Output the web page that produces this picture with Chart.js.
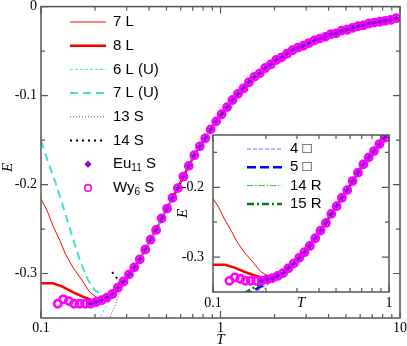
<!DOCTYPE html>
<html>
<head>
<meta charset="utf-8">
<script src="https://cdn.jsdelivr.net/npm/chart.js@4"></script>
<style>
  html, body { margin: 0; padding: 0; background: #fff; }
  #wrap { position: relative; width: 407px; height: 346px; }
  #main { position: absolute; left: 0; top: 0; }
  #inset { position: absolute; left: 170px; top: 125px; }
</style>
</head>
<body>
<div id="wrap">
  <canvas id="main" width="407" height="346"></canvas>
  <canvas id="inset" width="230" height="195"></canvas>
</div>
<script>
// Energy E(T) -- main panel (0.1..10) and inset (0.1..1)

// markers, shared by both panels
const tWy = [0.124, 0.133, 0.143, 0.153, 0.164, 0.176, 0.189, 0.203, 0.218, 0.233, 0.250, 0.268, 0.288, 0.309, 0.331, 0.355, 0.381, 0.408, 0.438, 0.470, 0.504, 0.540, 0.579, 0.621, 0.666, 0.715, 0.767, 0.822, 0.882, 0.946, 1.014, 1.088, 1.166, 1.251, 1.342, 1.439, 1.543, 1.655, 1.775, 1.904, 2.042, 2.190, 2.349, 2.519, 2.702, 2.897, 3.107, 3.333, 3.574, 3.833, 4.111, 4.409, 4.729, 5.072, 5.439, 5.833, 6.256, 6.709, 7.195, 7.717, 8.276, 8.876, 9.519];
const eWy = [-0.334, -0.329, -0.331, -0.334, -0.334, -0.334, -0.334, -0.332, -0.330, -0.327, -0.323, -0.316, -0.309, -0.301, -0.293, -0.284, -0.273, -0.262, -0.251, -0.238, -0.227, -0.215, -0.204, -0.191, -0.179, -0.167, -0.157, -0.148, -0.138, -0.129, -0.121, -0.113, -0.105, -0.098, -0.092, -0.085, -0.079, -0.075, -0.069, -0.065, -0.060, -0.057, -0.053, -0.049, -0.046, -0.044, -0.041, -0.038, -0.036, -0.034, -0.031, -0.030, -0.027, -0.026, -0.024, -0.022, -0.021, -0.019, -0.018, -0.017, -0.016, -0.015, -0.013];
const tEu = [0.189, 0.203, 0.218, 0.233, 0.250, 0.268, 0.288, 0.309, 0.331, 0.355, 0.381, 0.408, 0.438, 0.470, 0.504, 0.540, 0.579, 0.621, 0.666, 0.715, 0.767, 0.822, 0.882, 0.946, 1.014, 1.088, 1.166, 1.251, 1.342, 1.439, 1.543, 1.655, 1.775, 1.904, 2.042, 2.190, 2.349, 2.519, 2.702, 2.897, 3.107, 3.333, 3.574, 3.833, 4.111, 4.409, 4.729, 5.072, 5.439, 5.833, 6.256, 6.709, 7.195, 7.717, 8.276, 8.876, 9.519];
const eEu = [-0.334, -0.332, -0.330, -0.327, -0.323, -0.316, -0.309, -0.301, -0.293, -0.284, -0.273, -0.262, -0.251, -0.238, -0.227, -0.215, -0.204, -0.191, -0.179, -0.167, -0.157, -0.148, -0.138, -0.129, -0.121, -0.113, -0.105, -0.098, -0.092, -0.085, -0.079, -0.075, -0.069, -0.065, -0.060, -0.057, -0.053, -0.049, -0.046, -0.044, -0.041, -0.038, -0.036, -0.034, -0.031, -0.030, -0.027, -0.026, -0.024, -0.022, -0.021, -0.019, -0.018, -0.017, -0.016, -0.015, -0.013];

// low-T branches of the lines (above T~0.28 they run along the markers)
const t7L = [0.1, 0.108, 0.117, 0.1275, 0.136, 0.1505, 0.169, 0.187, 0.205, 0.218, 0.233, 0.25, 0.268];
const e7L = [-0.216, -0.229, -0.247, -0.263, -0.277, -0.293, -0.3075, -0.321, -0.327, -0.330, -0.327, -0.323, -0.316];
const t8L = [0.1, 0.117, 0.1325, 0.1505, 0.171, 0.193, 0.205, 0.218, 0.233, 0.25, 0.268];
const e8L = [-0.311, -0.311, -0.315, -0.321, -0.326, -0.330, -0.331, -0.330, -0.327, -0.323, -0.316];
const t6LU = [0.205, 0.2127, 0.226, 0.2386, 0.251, 0.268];
const e6LU = [-0.365, -0.35, -0.34, -0.332, -0.324, -0.316];
const t7LU = [0.1, 0.108, 0.1196, 0.1325, 0.1487, 0.1646, 0.1825, 0.1995, 0.2185, 0.2357, 0.2512, 0.268];
const e7LU = [-0.151, -0.171, -0.196, -0.224, -0.257, -0.285, -0.307, -0.319, -0.324, -0.325, -0.323, -0.316];
const t13S = [0.235, 0.242, 0.261, 0.275];
const e13S = [-0.362, -0.35, -0.334, -0.320];
const t14S = [0.249, 0.2645, 0.278];
const e14S = [-0.2985, -0.305, -0.313];
const t4Q = [0.165, 0.185, 0.205, 0.222, 0.25];
const e4Q = [-0.353, -0.346, -0.338, -0.332, -0.323];
const t5Q = [0.150, 0.170, 0.190, 0.210, 0.233];
const e5Q = [-0.356, -0.348, -0.341, -0.334, -0.327];
const t14R = [0.185, 0.200, 0.218, 0.233];
const e14R = [-0.355, -0.342, -0.333, -0.327];
const t15R = [0.150, 0.170, 0.190, 0.210, 0.233];
const e15R = [-0.352, -0.344, -0.338, -0.333, -0.327];

// ticks
const mainXTicks = [0.1, 1, 10];
const mainXTickLabels = ["0.1", "1", "10"];
const mainXMinor = [0.2, 0.3, 0.4, 0.5, 0.6, 0.7, 0.8, 0.9, 2, 3, 4, 5, 6, 7, 8, 9];
const mainYTicks = [0, -0.1, -0.2, -0.3];
const mainYTickLabels = ["0", "-0.1", "-0.2", "-0.3"];
const mainYMinor = [-0.05, -0.15, -0.25];
const insetXTicks = [0.1, 1];
const insetXTickLabels = ["0.1", "1"];
const insetXMinor = [0.2, 0.3, 0.4, 0.5, 0.6, 0.7, 0.8, 0.9];
const insetYTicks = [-0.2, -0.3];
const insetYTickLabels = ["-0.2", "-0.3"];
const insetYMinor = [-0.15, -0.25];

const RED = "#ff0000";
const TURQ = "#40e0d0";
const PURPLE = "#9400d3";
const MAGENTA = "#ff00ff";

function pts(t, e) {
  return t.map((v, i) => ({ x: v, y: e[i] }));
}

// low branch followed by the common curve
function withTail(t, e) {
  const out = pts(t, e);
  const last = t[t.length - 1];
  tWy.forEach((v, i) => {
    if (v > last + 1e-6) out.push({ x: v, y: eWy[i] });
  });
  return out;
}

function lineSet(label, data, color, width, dash, order) {
  return {
    label, data,
    borderColor: color, backgroundColor: color,
    borderWidth: width, borderDash: dash,
    pointRadius: 0, tension: 0, fill: false, order
  };
}

function wySet() {
  return {
    label: "Wy|6| S", data: pts(tWy, eWy), showLine: false,
    pointStyle: "circle", pointRadius: 3.6, borderWidth: 2.6,
    borderColor: MAGENTA, backgroundColor: "rgba(255,255,255,0)", order: 1
  };
}

function euSet() {
  return {
    label: "Eu|11| S", data: pts(tEu, eEu), showLine: false,
    pointStyle: "rectRot", pointRadius: 2.6, borderWidth: 0.5,
    borderColor: PURPLE, backgroundColor: PURPLE, order: 0
  };
}

// box, inward ticks on all sides, tick labels, axis titles
function makeFrame(cfg) {
  return {
    id: "frame",
    afterDatasetsDraw(chart) {
      const { ctx, chartArea: a, scales: { x, y } } = chart;
      ctx.save();
      ctx.strokeStyle = "#555";
      ctx.lineWidth = 1.5;
      ctx.setLineDash([]);
      ctx.strokeRect(a.left, a.top, a.right - a.left, a.bottom - a.top);
      ctx.lineWidth = 1.2;
      ctx.beginPath();
      const xt = (v, len) => {
        const px = x.getPixelForValue(v);
        ctx.moveTo(px, a.bottom); ctx.lineTo(px, a.bottom - len);
        ctx.moveTo(px, a.top); ctx.lineTo(px, a.top + len);
      };
      const yt = (v, len) => {
        const py = y.getPixelForValue(v);
        ctx.moveTo(a.left, py); ctx.lineTo(a.left + len, py);
        ctx.moveTo(a.right, py); ctx.lineTo(a.right - len, py);
      };
      cfg.xTicks.forEach(v => xt(v, 7));
      cfg.xMinor.forEach(v => xt(v, 4));
      cfg.yTicks.forEach(v => yt(v, 7));
      cfg.yMinor.forEach(v => yt(v, 4));
      ctx.stroke();

      ctx.fillStyle = "#000";
      ctx.font = '14px "Liberation Serif"';
      ctx.textBaseline = "middle";
      ctx.textAlign = "center";
      cfg.xTicks.forEach((v, i) => {
        ctx.fillText(cfg.xLabels[i], x.getPixelForValue(v), a.bottom + cfg.xLabelGap);
      });
      ctx.textAlign = "right";
      cfg.yTicks.forEach((v, i) => {
        ctx.fillText(cfg.yLabels[i], a.left - cfg.yLabelGap, y.getPixelForValue(v));
      });
      ctx.font = 'italic 15px "Liberation Serif"';
      ctx.textAlign = "center";
      ctx.fillText("T", (a.left + a.right) / 2, a.bottom + cfg.xTitleGap);
      ctx.translate(a.left - cfg.yTitleGap, (a.top + a.bottom) / 2 + cfg.yTitleShift);
      ctx.rotate(-Math.PI / 2);
      ctx.fillText("E", 0, 0);
      ctx.restore();
    }
  };
}

// label text: "Eu|11| S" -> normal / subscript / normal
function drawLabel(ctx, text, x, y, size) {
  const parts = text.split("|");
  let cx = x;
  parts.forEach((p, k) => {
    const sub = k % 2 === 1;
    ctx.font = (sub ? Math.round(size * 0.66) : size) + 'px "Liberation Sans", "DejaVu Sans"';
    ctx.fillText(p, cx, y + (sub ? 4 : 0));
    cx += ctx.measureText(p).width;
  });
}

function makeLegend(cfg) {
  return {
    id: "legendList",
    afterDraw(chart) {
      const ctx = chart.ctx;
      ctx.save();
      ctx.textBaseline = "middle";
      ctx.textAlign = "left";
      cfg.items.forEach((idx, k) => {
        const ds = chart.data.datasets[idx];
        const y = cfg.y0 + k * cfg.dy;
        const mx = (cfg.x0 + cfg.x1) / 2;
        if (ds.showLine === false) {
          ctx.setLineDash([]);
          ctx.beginPath();
          if (ds.pointStyle === "rectRot") {
            const r = 3.6;
            ctx.moveTo(mx, y - r); ctx.lineTo(mx + r, y);
            ctx.lineTo(mx, y + r); ctx.lineTo(mx - r, y);
            ctx.closePath();
            ctx.fillStyle = ds.backgroundColor;
            ctx.fill();
          } else {
            ctx.arc(mx, y, 3.3, 0, Math.PI * 2);
            ctx.strokeStyle = ds.borderColor;
            ctx.lineWidth = 1.6;
            ctx.stroke();
          }
        } else {
          ctx.beginPath();
          ctx.strokeStyle = ds.borderColor;
          ctx.lineWidth = ds.borderWidth;
          ctx.setLineDash(ds.borderDash || []);
          ctx.moveTo(cfg.x0, y);
          ctx.lineTo(cfg.x1, y);
          ctx.stroke();
        }
        ctx.fillStyle = "#000";
        drawLabel(ctx, ds.label, cfg.xText, y, cfg.size);
      });
      ctx.restore();
    }
  };
}

Chart.defaults.animation = false;

const mainDatasets = [
  lineSet("7 L", withTail(t7L, e7L), RED, 1, [], 9),
  lineSet("8 L", withTail(t8L, e8L), RED, 2.5, [], 8),
  lineSet("6 L (U)", withTail(t6LU, e6LU), TURQ, 1, [3, 2], 7),
  lineSet("7 L (U)", withTail(t7LU, e7LU), TURQ, 2, [8, 5], 6),
  lineSet("13 S", withTail(t13S, e13S), "#555", 1, [1, 2], 5),
  lineSet("14 S", withTail(t14S, e14S), "#000", 2, [2, 4], 4),
  euSet(),
  wySet()
];

new Chart(document.getElementById("main"), {
  type: "line",
  data: { datasets: mainDatasets },
  options: {
    responsive: false,
    events: [],
    layout: { padding: { left: 41, right: 7, top: 5, bottom: 28 } },
    scales: {
      x: { type: "logarithmic", min: 0.1, max: 10, display: false },
      y: { type: "linear", min: -0.35, max: 0, display: false }
    },
    plugins: { legend: { display: false }, tooltip: { enabled: false } }
  },
  plugins: [
    makeFrame({
      xTicks: mainXTicks, xLabels: mainXTickLabels, xMinor: mainXMinor,
      yTicks: mainYTicks, yLabels: mainYTickLabels, yMinor: mainYMinor,
      xLabelGap: 10, yLabelGap: 4, xTitleGap: 22, yTitleGap: 33, yTitleShift: 5
    }),
    makeLegend({ items: [0, 1, 2, 3, 4, 5, 6, 7], x0: 70, x1: 106, xText: 113, y0: 22, dy: 23.7, size: 15 })
  ]
});

const insetDatasets = [
  lineSet("4 \u25a1", withTail(t4Q, e4Q), "#7070ff", 1, [4, 2], 9),
  lineSet("5 \u25a1", withTail(t5Q, e5Q), "#0000ff", 2.5, [9, 4], 8),
  lineSet("14 R", withTail(t14R, e14R), "#33bb33", 1, [6, 2, 1.5, 2], 7),
  lineSet("15 R", withTail(t15R, e15R), "#008000", 2.5, [7, 3, 2, 3], 6),
  lineSet("7 L", withTail(t7L, e7L), RED, 1, [], 11),
  lineSet("8 L", withTail(t8L, e8L), RED, 2.5, [], 10),
  euSet(),
  wySet()
];

new Chart(document.getElementById("inset"), {
  type: "line",
  data: { datasets: insetDatasets },
  options: {
    responsive: false,
    events: [],
    layout: { padding: { left: 43, right: 11, top: 10, bottom: 28 } },
    scales: {
      x: { type: "logarithmic", min: 0.1, max: 1, display: false },
      y: { type: "linear", min: -0.35, max: -0.125, display: false }
    },
    plugins: { legend: { display: false }, tooltip: { enabled: false } }
  },
  plugins: [
    makeFrame({
      xTicks: insetXTicks, xLabels: insetXTickLabels, xMinor: insetXMinor,
      yTicks: insetYTicks, yLabels: insetYTickLabels, yMinor: insetYMinor,
      xLabelGap: 11, yLabelGap: 9, xTitleGap: 11, yTitleGap: 30, yTitleShift: 0
    }),
    makeLegend({ items: [0, 1, 2, 3], x0: 77, x1: 112, xText: 120, y0: 24, dy: 18.3, size: 15 })
  ]
});
</script>
</body>
</html>
